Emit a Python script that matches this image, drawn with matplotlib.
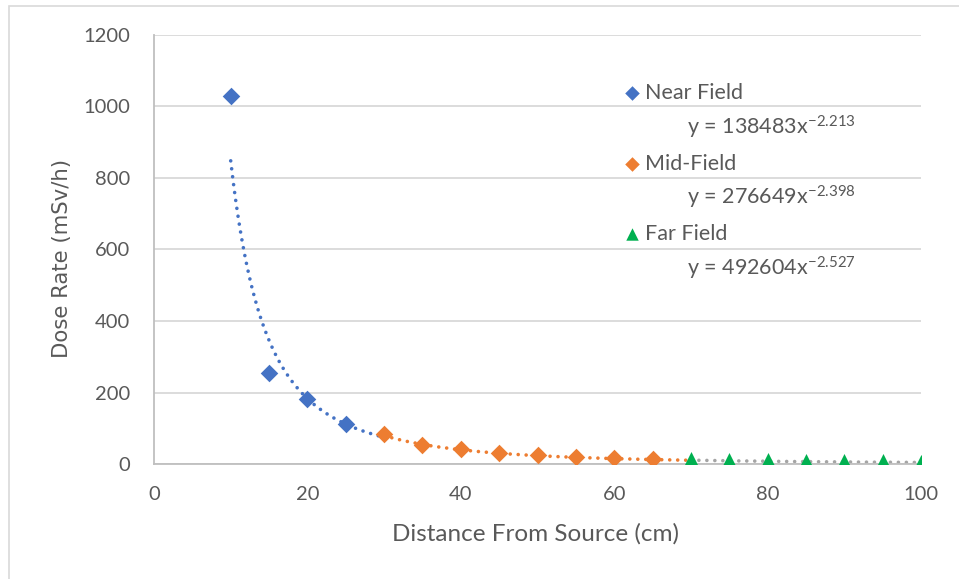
import numpy as np
import matplotlib
matplotlib.use('Agg')
import matplotlib.pyplot as plt
from matplotlib.patches import Rectangle

plt.rcParams['font.family'] = ['Lato', 'DejaVu Sans']
plt.rcParams['mathtext.default'] = 'regular'

# measured dose rates
near_x = [10, 15, 20, 25]
near_y = [1030, 255, 183, 111]
mid_x = [30, 35, 40, 45, 50, 55, 60, 65]
mid_y = [85, 53, 41, 30, 25, 20, 16, 14]
far_x = [70, 75, 80, 85, 90, 95, 100]
far_y = [11, 9, 8, 6.5, 6, 5, 4]

# power-law fits y = a * x^b
fits = [
    ('Near Field', 138483, -2.213, (10, 30), '#4472C4'),
    ('Mid-Field', 276649, -2.398, (30, 70), '#ED7D31'),
    ('Far Field', 492604, -2.527, (70, 100), '#A5A5A5'),
]

txt = '#595959'
fig = plt.figure(figsize=(9.59, 5.79), dpi=100)
fig.patches.append(Rectangle((9 / 959, -0.1), 1.2, 1 - 6 / 579 + 0.1,
                             transform=fig.transFigure, fill=False,
                             edgecolor='#d9d9d9', linewidth=1.2))
ax = fig.add_axes([154 / 959, 1 - 464 / 579, (921 - 154) / 959, (464 - 35) / 579])

dots = (0, (0.01, 2.2))
for name, a, b, (x0, x1), col in fits:
    xs = np.linspace(x0, x1, 200)
    ax.plot(xs, a * xs ** b, color=col, lw=2.6, linestyle=dots,
            dash_capstyle='round', zorder=2)

ax.scatter(near_x, near_y, marker='D', s=80, color='#4472C4', zorder=3, linewidths=0)
ax.scatter(mid_x, mid_y, marker='D', s=80, color='#ED7D31', zorder=3, linewidths=0)
ax.scatter(far_x, far_y, marker='^', s=150, color='#00B050', zorder=3, linewidths=0)

ax.set_xlim(0, 100)
ax.set_ylim(0, 1200)
ax.set_xticks(range(0, 101, 20))
ax.set_yticks(range(0, 1201, 200))
ax.grid(axis='y', color='#d9d9d9', lw=1.3)
ax.set_axisbelow(True)
for s in ['top', 'right']:
    ax.spines[s].set_visible(False)
for s in ['left', 'bottom']:
    ax.spines[s].set_color('#bfbfbf')
    ax.spines[s].set_linewidth(1.3)
ax.tick_params(length=0, labelsize=14.5, colors=txt)
ax.tick_params(axis='y', pad=17)
ax.tick_params(axis='x', pad=16)

fig.text(536 / 959, 1 - 534 / 579, 'Distance From Source (cm)', fontsize=17.5,
         color=txt, ha='center', va='center')
fig.text(62 / 959, 1 - 258 / 579, 'Dose Rate (mSv/h)', fontsize=15.3, color=txt,
         ha='center', va='center', rotation=90, family=['DejaVu Sans'])

# legend with fitted equations
leg_markers = [('D', '#4472C4', 55), ('D', '#ED7D31', 55), ('^', '#00B050', 80)]
for i, (name, a, b, _, _) in enumerate(fits):
    yn = 1 - (93 - 35 + i * 70.6) / 429
    ye = 1 - (127 - 35 + i * 70.6) / 429
    mk, mc, ms = leg_markers[i]
    ax.scatter([(632 - 154) / 767], [yn], marker=mk, s=ms, color=mc,
               transform=ax.transAxes, clip_on=False, linewidths=0)
    ax.text((645 - 154) / 767, yn, name, transform=ax.transAxes, fontsize=15.5,
            color=txt, va='center', ha='left')
    ax.text((687 - 154) / 767, ye, 'y = %dx$^{%.3f}$' % (a, b),
            transform=ax.transAxes, fontsize=15.5, color=txt, va='center', ha='left')

fig.savefig('out.png', dpi=100)
